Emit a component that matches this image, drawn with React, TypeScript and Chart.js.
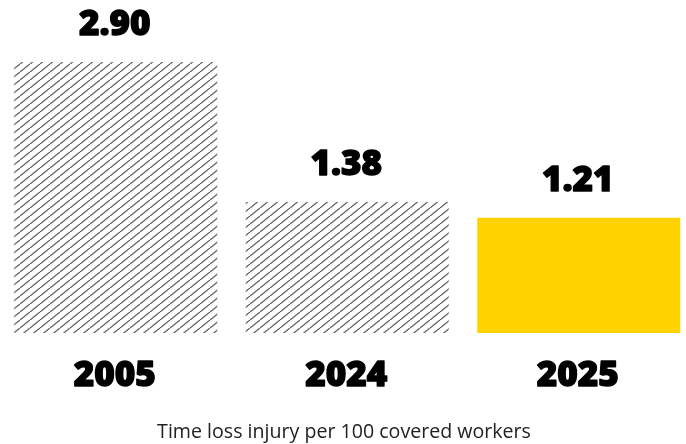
import React, { useEffect, useRef } from "react";
import { Chart, registerables } from "chart.js";

Chart.register(...registerables);

const categories = ["2005", "2024", "2025"];
const values = [2.9, 1.38, 1.21];
const valueLabels = ["2.90", "1.38", "1.21"];
const title = "Time loss injury per 100 covered workers";

function makeHatch(): CanvasPattern | string {
  const w = 10;
  const h = 8;
  const c = document.createElement("canvas");
  c.width = w;
  c.height = h;
  const ctx = c.getContext("2d");
  if (!ctx) return "#666";
  ctx.strokeStyle = "#5e5e5e";
  ctx.lineWidth = 1.25;
  for (const dx of [-w, 0, w]) {
    ctx.beginPath();
    ctx.moveTo(dx, h);
    ctx.lineTo(dx + w, 0);
    ctx.stroke();
  }
  const p = ctx.createPattern(c, "repeat");
  return p || "#666";
}

const labelPlugin = {
  id: "labelPlugin",
  afterDatasetsDraw(chart: any) {
    const ctx = chart.ctx as CanvasRenderingContext2D;
    const meta = chart.getDatasetMeta(0);
    ctx.save();
    ctx.fillStyle = "#000";
    ctx.strokeStyle = "#000";
    ctx.lineWidth = 1.4;
    ctx.lineJoin = "round";
    ctx.textAlign = "center";
    ctx.textBaseline = "alphabetic";
    meta.data.forEach((bar: any, i: number) => {
      ctx.font = "800 35px 'Open Sans'";
      ctx.fillText(valueLabels[i], bar.x - 1, bar.y - 27);
      ctx.strokeText(valueLabels[i], bar.x - 1, bar.y - 27);
      ctx.fillText(categories[i], bar.x - 1, 386);
      ctx.strokeText(categories[i], bar.x - 1, 386);
    });
    ctx.font = "400 19.6px 'Open Sans'";
    ctx.fillStyle = "#222";
    ctx.fillText(title, 344, 438);
    ctx.restore();
  },
};

export default function App() {
  const ref = useRef<HTMLCanvasElement | null>(null);
  useEffect(() => {
    if (!ref.current) return;
    const hatch = makeHatch();
    const chart = new Chart(ref.current, {
      type: "bar",
      data: {
        labels: categories,
        datasets: [
          {
            data: values,
            base: -0.042,
            backgroundColor: [hatch, hatch, "#FFD200"],
            borderWidth: 0,
            barPercentage: 0.877,
            categoryPercentage: 1,
          } as any,
        ],
      },
      options: {
        animation: false,
        responsive: false,
        layout: { padding: { top: 62, bottom: 111, left: 0, right: 5.5 } },
        plugins: { legend: { display: false }, tooltip: { enabled: false } },
        scales: {
          x: { display: false, grid: { display: false } },
          y: { display: false, min: -0.042, max: 2.9 },
        },
      },
      plugins: [labelPlugin],
    });
    return () => chart.destroy();
  }, []);
  return (
    <div
      style={{
        position: "absolute",
        left: 0,
        top: 0,
        width: 686,
        height: 444,
        overflow: "hidden",
        background: "#fff",
      }}
    >
      <canvas ref={ref} width={700} height={444} style={{ width: 700, height: 444 }} />
    </div>
  );
}
